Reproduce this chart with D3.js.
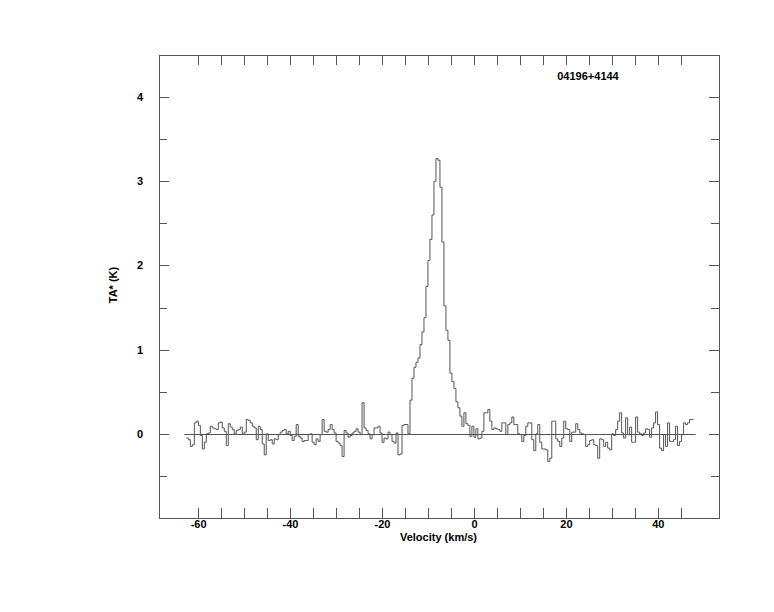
<!DOCTYPE html>
<html>
<head>
<meta charset="utf-8">
<script src="https://cdn.jsdelivr.net/npm/d3@7"></script>
<style>
html,body{margin:0;padding:0;background:#fff;}
svg{display:block;}
text{font-family:"Liberation Sans",Arial,Helvetica,sans-serif;font-weight:bold;fill:#000;}
</style>
</head>
<body>
<svg id="chart" width="774" height="612"></svg>
<script>
// ---- data ----
const sourceName = "04196+4144";
const xLabel = "Velocity (km/s)";
const yLabel = "TA* (K)";
const velocityStart = -62.55;      // left edge of first channel (km/s)
const channelWidth = 0.4343;       // km/s
const xTickValues = [-60, -40, -20, 0, 20, 40];
const yTickValues = [0, 1, 2, 3, 4];
const antennaTemp = [
 -0.05,-0.07,-0.15,-0.13, 0.13, 0.15, 0.10,-0.02,-0.18,-0.10,
  0.00, 0.01, 0.09, 0.07, 0.06, 0.05, 0.13, 0.14, 0.07, 0.03,
 -0.14, 0.12, 0.08, 0.05, 0.00, 0.04, 0.05, 0.08, 0.00, 0.02,
  0.17, 0.16, 0.13, 0.09, 0.07,-0.07, 0.09, 0.05,-0.12,-0.25,
  0.00,-0.08,-0.07,-0.12,-0.06,-0.07,-0.01, 0.02, 0.04, 0.05,
  0.00, 0.03,
 -0.02,-0.08,-0.03, 0.11,-0.03,-0.05,-0.09,-0.08,-0.08,-0.01,
  0.00,-0.10,-0.13,-0.06,-0.09,-0.01, 0.17, 0.03, 0.02, 0.05,
  0.11, 0.05, 0.01,-0.09,-0.11,-0.14,-0.27, 0.04, 0.01,-0.04,
 -0.02, 0.01, 0.03, 0.06, 0.02,-0.01, 0.37, 0.07, 0.04, 0.00,
 -0.06,-0.01, 0.07, 0.07, 0.09, 0.01,-0.10,-0.05,-0.06, 0.02,
 -0.01,-0.09,-0.11, 0.01,-0.25,-0.24, 0.10, 0.11, 0.11, 0.00,
  0.40, 0.66, 0.79, 0.85, 0.90, 1.06, 1.21, 1.38, 1.75, 2.06,
  2.31, 2.60, 3.00, 3.27, 3.25, 2.93, 2.28, 1.52, 1.23, 1.11,
  0.72, 0.62, 0.54, 0.38, 0.31, 0.21, 0.09,
  0.25, 0.12, 0.10,-0.03, 0.09,-0.04, 0.06,-0.06,-0.05, 0.03,
  0.25, 0.25, 0.29, 0.15, 0.05, 0.07, 0.06, 0.05, 0.03, 0.13,
  0.13,-0.01, 0.11, 0.13, 0.20, 0.11, 0.11, 0.00,-0.01,-0.09,
 -0.02, 0.09, 0.13, 0.13,-0.07,-0.20, 0.00, 0.11,-0.10,-0.18,
 -0.18,-0.19,-0.33,-0.29, 0.15, 0.15,-0.06,-0.09,-0.15,-0.05,
  0.15, 0.06, 0.05,-0.09, 0.02, 0.02, 0.12, 0.05, 0.01, 0.00,
 -0.01,-0.15,-0.13,
 -0.08,-0.07,-0.13,-0.14,-0.29,-0.06,-0.07,-0.15,-0.10,-0.17,
 -0.19, 0.00,-0.02, 0.05, 0.15, 0.25, 0.01,-0.05, 0.19,-0.01,
  0.08,-0.10,-0.10, 0.20, 0.02, 0.00,-0.02, 0.01, 0.06, 0.05,
 -0.04, 0.07, 0.13, 0.26, 0.11,-0.17,-0.20,-0.01,-0.15, 0.13,
 -0.09,-0.09,-0.07, 0.09,-0.14,-0.09,-0.01, 0.13, 0.11, 0.13,
  0.17, 0.17
];

// ---- layout ----
const frame = {left: 159, right: 719, top: 55, bottom: 518};
const svg = d3.select("#chart");
const x = d3.scaleLinear().domain([-68.5, 53.3]).range([frame.left, frame.right]);
const y = d3.scaleLinear().domain([-1, 4.5]).range([frame.bottom, frame.top]);
const axisColor = "#555";
const fmt = d => String(d);

const points = antennaTemp.map((t, i) => [velocityStart + i * channelWidth, t]);
points.push([velocityStart + antennaTemp.length * channelWidth, antennaTemp[antennaTemp.length - 1]]);

// frame
svg.append("rect")
  .attr("x", frame.left + 0.5).attr("y", frame.top + 0.5)
  .attr("width", frame.right - frame.left).attr("height", frame.bottom - frame.top)
  .attr("fill", "none").attr("stroke", axisColor).attr("stroke-width", 1);

// ticks (inward) on all four sides
const xMinor = d3.range(-60, 50, 5);
const yMinor = d3.range(-0.5, 4.5, 0.5);
const g = svg.append("g").attr("stroke", axisColor).attr("stroke-width", 1);
xMinor.forEach(v => {
  const px = Math.round(x(v)) + 0.5;
  g.append("line").attr("x1", px).attr("x2", px).attr("y1", frame.bottom).attr("y2", frame.bottom - 10);
  g.append("line").attr("x1", px).attr("x2", px).attr("y1", frame.top).attr("y2", frame.top + 10);
});
yMinor.forEach(v => {
  const py = Math.round(y(v)) + 0.5;
  const major = Math.abs(v - Math.round(v)) < 1e-6;
  const len = major ? 10 : 8;
  g.append("line").attr("x1", frame.left).attr("x2", frame.left + len).attr("y1", py).attr("y2", py);
  g.append("line").attr("x1", frame.right).attr("x2", frame.right - len).attr("y1", py).attr("y2", py);
});

// tick labels via d3 axes (lines hidden)
const xAxis = svg.append("g").attr("transform", `translate(0,${frame.bottom})`)
  .call(d3.axisBottom(x).tickValues(xTickValues).tickSize(0).tickPadding(2).tickFormat(fmt));
xAxis.select(".domain").remove();
xAxis.selectAll("text").style("font-size", "11px").style("font-family", "Liberation Sans, Arial, sans-serif").style("font-weight", "bold");

const yAxis = svg.append("g").attr("transform", `translate(${frame.left},0)`)
  .call(d3.axisLeft(y).tickValues(yTickValues).tickSize(0).tickPadding(16).tickFormat(fmt));
yAxis.select(".domain").remove();
yAxis.selectAll("text").style("font-size", "11px").style("font-family", "Liberation Sans, Arial, sans-serif").style("font-weight", "bold");

// zero line
svg.append("line")
  .attr("x1", x(velocityStart) - 2).attr("x2", x(velocityStart + antennaTemp.length * channelWidth) + 2)
  .attr("y1", Math.round(y(0)) + 0.5).attr("y2", Math.round(y(0)) + 0.5)
  .attr("stroke", axisColor).attr("stroke-width", 1);

// spectrum
svg.append("path")
  .datum(points)
  .attr("fill", "none").attr("stroke", "#555").attr("stroke-width", 1)
  .attr("d", d3.line().x(d => x(d[0])).y(d => y(d[1])).curve(d3.curveStepAfter));

// labels
svg.append("text").attr("x", (frame.left + frame.right) / 2 - 0.5).attr("y", 541)
  .attr("text-anchor", "middle").style("font-size", "11px").text(xLabel);
svg.append("text").attr("transform", "translate(117,285) rotate(-90)")
  .attr("text-anchor", "middle").style("font-size", "11px").text(yLabel);
svg.append("text").attr("x", 588).attr("y", 80)
  .attr("text-anchor", "middle").style("font-size", "11px").text(sourceName);
</script>
</body>
</html>
